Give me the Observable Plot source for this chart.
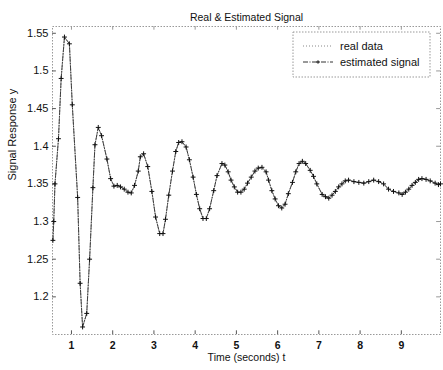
<!DOCTYPE html>
<html>
<head>
<meta charset="utf-8">
<script src="https://cdn.jsdelivr.net/npm/d3@7"></script>
<script src="https://cdn.jsdelivr.net/npm/@observablehq/plot@0.6"></script>
<style>
  html, body { margin: 0; padding: 0; background: #fff; }
  svg { font-family: "Liberation Sans", Arial, sans-serif; }
</style>
</head>
<body>
<div id="chart"></div>
<script>
const title = "Real & Estimated Signal";
const xLabel = "Time (seconds) t";
const yLabel = "Signal Response y";
const legendLabels = ["real data", "estimated signal"];
const xTicks = [1, 2, 3, 4, 5, 6, 7, 8, 9];
const yTicks = [1.2, 1.25, 1.3, 1.35, 1.4, 1.45, 1.5, 1.55];
const yTickLabels = ["1.2", "1.25", "1.3", "1.35", "1.4", "1.45", "1.5", "1.55"];

const time = [0.55, 0.57, 0.6, 0.685, 0.75, 0.83, 0.95, 1.02, 1.15, 1.21, 1.27, 1.37, 1.44, 1.52, 1.57, 1.65, 1.73,
  1.86, 1.95, 2.03, 2.11, 2.19, 2.28, 2.37, 2.45, 2.53, 2.62, 2.67, 2.75, 2.85, 2.95, 3.04, 3.14, 3.22, 3.28, 3.36,
  3.45, 3.53, 3.6, 3.68, 3.78, 3.86, 3.95, 4.03, 4.11, 4.19, 4.27, 4.35, 4.45, 4.53, 4.65, 4.72, 4.8, 4.87, 4.95,
  5.03, 5.11, 5.19, 5.27, 5.36, 5.45, 5.53, 5.62, 5.72, 5.78, 5.86, 5.94, 6.02, 6.1, 6.18, 6.26, 6.36, 6.44, 6.52,
  6.6, 6.68, 6.79, 6.87, 6.95, 7.08, 7.16, 7.24, 7.32, 7.4, 7.48, 7.56, 7.64, 7.72, 7.85, 7.97, 8.09, 8.21, 8.33,
  8.45, 8.57, 8.69, 8.81, 8.94, 9.02, 9.1, 9.18, 9.26, 9.34, 9.42, 9.5, 9.6, 9.7, 9.82, 9.9, 9.95];
const estimated = [1.275, 1.3, 1.35, 1.41, 1.49, 1.545, 1.536, 1.455, 1.332, 1.218, 1.16, 1.178, 1.25, 1.345, 1.402, 1.425, 1.414,
  1.383, 1.357, 1.347, 1.348, 1.346, 1.343, 1.339, 1.338, 1.348, 1.367, 1.386, 1.39, 1.373, 1.34, 1.306, 1.284, 1.284, 1.303, 1.335,
  1.367, 1.393, 1.405, 1.406, 1.399, 1.382, 1.359, 1.336, 1.317, 1.304, 1.304, 1.317, 1.341, 1.361, 1.377, 1.375, 1.366, 1.355, 1.346,
  1.339, 1.339, 1.343, 1.351, 1.359, 1.367, 1.371, 1.372, 1.366, 1.355, 1.341, 1.33, 1.321, 1.318, 1.323, 1.337, 1.352, 1.366, 1.377,
  1.38, 1.377, 1.368, 1.36, 1.35, 1.336, 1.333, 1.331, 1.335, 1.34, 1.346, 1.35, 1.354, 1.355, 1.353, 1.352, 1.351, 1.353, 1.355,
  1.353, 1.35, 1.343, 1.34, 1.338, 1.336, 1.339, 1.343, 1.348, 1.352, 1.356, 1.357, 1.356, 1.354, 1.351, 1.349, 1.35];
const realData = estimated;

const est = time.map((t, i) => ({t, y: estimated[i]}));
const real = time.map((t, i) => ({t, y: realData[i]}));

const xDomain = [0.54, 9.95];
const yDomain = [1.15, 1.559];

const tickLenY = (yDomain[1] - yDomain[0]) * 0.012;
const tickLenX = (xDomain[1] - xDomain[0]) * 0.01;

const chart = Plot.plot({
  width: 443,
  height: 370,
  marginLeft: 52,
  marginRight: 3,
  marginTop: 26,
  marginBottom: 36,
  style: {fontFamily: '"Liberation Sans", Arial, sans-serif', fontSize: "10.5px", color: "#111", background: "#fff"},
  x: {domain: xDomain},
  y: {domain: yDomain},
  marks: [
    Plot.frame({stroke: "#999", strokeDasharray: "1.5,1.5"}),
    Plot.ruleX(xTicks, {x: d => d, y1: yDomain[0], y2: yDomain[0] + tickLenY, stroke: "#555"}),
    Plot.ruleX(xTicks, {x: d => d, y1: yDomain[1], y2: yDomain[1] - tickLenY, stroke: "#999"}),
    Plot.ruleY(yTicks, {y: d => d, x1: xDomain[0], x2: xDomain[0] + tickLenX, stroke: "#555"}),
    Plot.ruleY(yTicks, {y: d => d, x1: xDomain[1], x2: xDomain[1] - tickLenX, stroke: "#999"}),
    Plot.axisX({ticks: xTicks, tickSize: 0, tickPadding: 7, label: null, fontSize: 10.5, fontWeight: "bold"}),
    Plot.axisY({ticks: yTicks, tickFormat: (d, i) => yTickLabels[i], tickSize: 0, tickPadding: 4, label: null, fontSize: 11}),
    Plot.line(real, {x: "t", y: "y", stroke: "#888", strokeWidth: 1, strokeDasharray: "1,2"}),
    Plot.line(est, {x: "t", y: "y", stroke: "#333", strokeWidth: 0.9, strokeDasharray: "5,1.5,1,1.5"}),
    Plot.dot(est, {x: "t", y: "y", symbol: "plus", r: 1.7, stroke: "#111", strokeWidth: 1}),
    Plot.text([title], {frameAnchor: "top", dy: -13, fontSize: 10.5, fill: "#111"}),
    Plot.text([xLabel], {frameAnchor: "bottom", dy: 26, fontSize: 10.5, fill: "#111"}),
    Plot.text([yLabel], {frameAnchor: "left", dx: -40, rotate: -90, fontSize: 11, fill: "#111"})
  ]
});

const svg = d3.select(chart);
const lg = svg.append("g").attr("transform", "translate(293,32)");
lg.append("rect").attr("width", 137).attr("height", 45).attr("fill", "#fff")
  .attr("stroke", "#999").attr("stroke-dasharray", "1.5,1.5");
lg.append("line").attr("x1", 10).attr("x2", 40).attr("y1", 14).attr("y2", 14)
  .attr("stroke", "#888").attr("stroke-dasharray", "1,2");
lg.append("line").attr("x1", 10).attr("x2", 40).attr("y1", 30).attr("y2", 30)
  .attr("stroke", "#333").attr("stroke-dasharray", "5,1.5,1,1.5");
lg.append("path").attr("d", "M23.3,30h3.4M25,28.3v3.4").attr("stroke", "#111").attr("stroke-width", 1);
legendLabels.forEach((s, i) => {
  lg.append("text").attr("x", 47).attr("y", 14 + i * 16).attr("dy", "0.35em")
    .attr("text-anchor", "start").attr("font-size", 11).attr("fill", "#111").text(s);
});

document.getElementById("chart").append(chart);
</script>
</body>
</html>
